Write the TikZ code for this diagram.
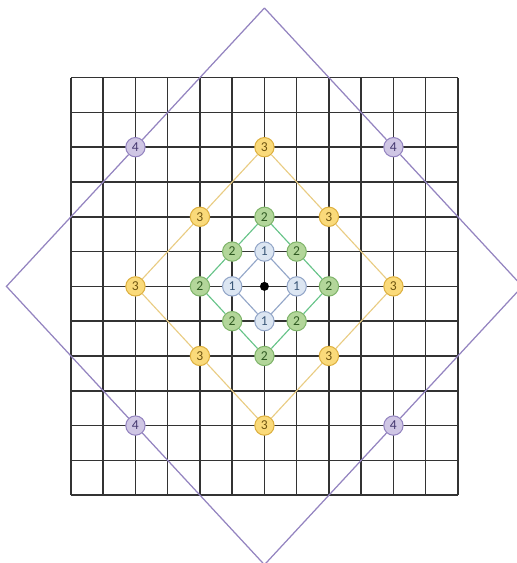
\documentclass[tikz,border=0pt]{standalone}
\usepackage{fontspec}
\setmainfont{Carlito}
\usetikzlibrary{positioning}
\definecolor{gridgray}{HTML}{333333}
\definecolor{onefill}{HTML}{DCE6F2}
\definecolor{onedraw}{HTML}{93A6C8}
\definecolor{onetext}{HTML}{3B5878}
\definecolor{twofill}{HTML}{B3D69A}
\definecolor{twodraw}{HTML}{7FB46A}
\definecolor{twotext}{HTML}{2F5A22}
\definecolor{threefill}{HTML}{FADA7A}
\definecolor{threedraw}{HTML}{DDB040}
\definecolor{threetext}{HTML}{6E5410}
\definecolor{fourfill}{HTML}{CFC6E4}
\definecolor{fourdraw}{HTML}{9484C0}
\definecolor{fourtext}{HTML}{43366E}
\tikzset{
  lvl/.style={circle, inner sep=0pt, minimum size=0.6cm, line width=0.9pt, font=\fontsize{12}{12}\selectfont},
  lvlone/.style={lvl, draw=onedraw, fill=onefill, text=onetext},
  lvltwo/.style={lvl, draw=twodraw, fill=twofill, text=twotext},
  lvlthree/.style={lvl, draw=threedraw, fill=threefill, text=threetext},
  lvlfour/.style={lvl, draw=fourdraw, fill=fourfill, text=fourtext},
  lineone/.style={line width=1pt, draw=onedraw},
  linetwo/.style={line width=1pt, draw=twodraw!80!cyan},
  linethree/.style={line width=1pt, draw=threedraw!65},
  linefour/.style={line width=1.1pt, draw=fourdraw},
  centerdot/.style={circle, fill=black, inner sep=0pt, minimum size=0.28cm}
}
\begin{document}
\begin{tikzpicture}[x=1cm, y=1.079cm]
        \useasboundingbox (-8.20,-7.95) rectangle (7.83,8.23);
        %Grid
        \foreach \i in {-6,...,6} {
          \draw[gridgray, line width=1.4pt] (\i,-6) -- (\i,6);
          \draw[gridgray, line width=1.4pt] (-6,\i) -- (6,\i);
        }
        %Outer corners
        \coordinate (ptop) at (0,8);
        \coordinate (pright) at (8,0);
        \coordinate (pbottom) at (0,-8);
        \coordinate (pleft) at (-8,0);
        %Nodes
        \node[centerdot] (o) at (0,0) {};
        \node[lvlone] (a1) at (0,1) {1};
        \node[lvlone] (a2) at (1,0) {1};
        \node[lvlone] (a3) at (0,-1) {1};
        \node[lvlone] (a4) at (-1,0) {1};
        \node[lvltwo] (b1) at (0,2) {2};
        \node[lvltwo] (b2) at (1,1) {2};
        \node[lvltwo] (b3) at (2,0) {2};
        \node[lvltwo] (b4) at (1,-1) {2};
        \node[lvltwo] (b5) at (0,-2) {2};
        \node[lvltwo] (b6) at (-1,-1) {2};
        \node[lvltwo] (b7) at (-2,0) {2};
        \node[lvltwo] (b8) at (-1,1) {2};
        \node[lvlthree] (c1) at (0,4) {3};
        \node[lvlthree] (c2) at (2,2) {3};
        \node[lvlthree] (c3) at (4,0) {3};
        \node[lvlthree] (c4) at (2,-2) {3};
        \node[lvlthree] (c5) at (0,-4) {3};
        \node[lvlthree] (c6) at (-2,-2) {3};
        \node[lvlthree] (c7) at (-4,0) {3};
        \node[lvlthree] (c8) at (-2,2) {3};
        \node[lvlfour] (d1) at (4,4) {4};
        \node[lvlfour] (d2) at (4,-4) {4};
        \node[lvlfour] (d3) at (-4,-4) {4};
        \node[lvlfour] (d4) at (-4,4) {4};
        %Draw lines
        \draw[lineone] (a1) -- (a2) -- (a3) -- (a4) -- (a1);
        \draw[linetwo] (b1) -- (b2) -- (b3) -- (b4) -- (b5) -- (b6) -- (b7) -- (b8) -- (b1);
        \draw[linethree] (c1) -- (c2) -- (c3) -- (c4) -- (c5) -- (c6) -- (c7) -- (c8) -- (c1);
        \draw[linefour] (ptop) -- (d1) -- (pright) -- (d2) -- (pbottom) -- (d3) -- (pleft) -- (d4) -- (ptop);
\end{tikzpicture}
\end{document}
